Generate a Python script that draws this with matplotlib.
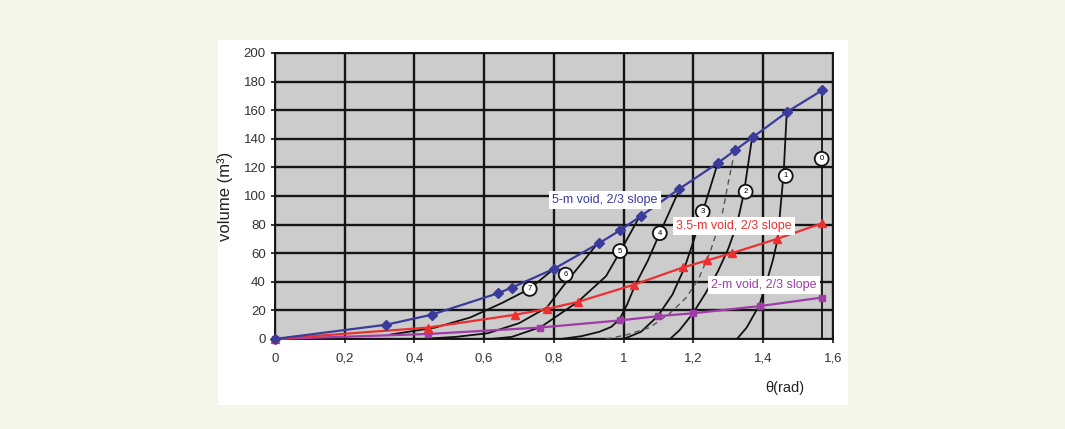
import matplotlib
matplotlib.use('Agg')
import matplotlib.pyplot as plt
from matplotlib.patches import Rectangle

plt.rcParams['font.family'] = ['Liberation Sans', 'DejaVu Sans']

# void series (theta in rad, volume in m3)
theta_5m = [0, 0.32, 0.45, 0.64, 0.68, 0.80, 0.93, 0.99, 1.05, 1.16, 1.27, 1.32, 1.37, 1.47, 1.57]
vol_5m = [0, 10, 17, 32, 36, 49, 67, 76, 86, 105, 123, 132, 141, 159, 174]

theta_35m = [0, 0.44, 0.69, 0.78, 0.87, 1.03, 1.17, 1.24, 1.31, 1.44, 1.57]
vol_35m = [0, 8, 17, 21, 26, 38, 50, 55, 60, 70, 81]

theta_2m = [0, 0.44, 0.76, 0.99, 1.10, 1.20, 1.39, 1.57]
vol_2m = [0, 3.5, 8, 13, 16, 18, 23, 29]

# numbered block curves 0..7 and the dashed one
c0_x = [1.568, 1.568]
c0_y = [0, 174]
c1_x = [1.325, 1.353, 1.39, 1.41, 1.428, 1.442, 1.45, 1.459, 1.468]
c1_y = [0, 8, 24, 40, 55, 70, 92, 116, 159]
c2_x = [1.133, 1.16, 1.199, 1.235, 1.27, 1.30, 1.325, 1.345, 1.368]
c2_y = [0, 6, 18, 32, 47, 63, 80, 102, 140]
c3_x = [1.0, 1.05, 1.098, 1.14, 1.175, 1.20, 1.227, 1.25, 1.27]
c3_y = [0, 5, 16, 31, 50, 68, 89, 107, 123]
c4_x = [0.82, 0.88, 0.93, 0.965, 0.989, 1.01, 1.032, 1.07, 1.104, 1.161]
c4_y = [0, 2, 5, 8.5, 14, 24, 37, 55, 74, 105]
c5_x = [0.62, 0.68, 0.763, 0.869, 0.95, 0.99, 1.049]
c5_y = [0, 1.5, 8.4, 26, 44, 61, 87]
c6_x = [0.42, 0.52, 0.61, 0.70, 0.78, 0.83, 0.88, 0.926]
c6_y = [0, 1.5, 4, 11, 22, 38, 53, 67]
c7_x = [0.33, 0.46, 0.56, 0.65, 0.73, 0.80]
c7_y = [3, 8, 15, 25, 35, 49]
dash_x = [0.95, 1.01, 1.075, 1.133, 1.18, 1.215, 1.247, 1.281, 1.30, 1.319]
dash_y = [0, 3, 8, 18, 29, 42, 60, 85, 109, 132]

curve_tags = ['0', '1', '2', '3', '4', '5', '6', '7']
tag_x = [1.568, 1.465, 1.35, 1.227, 1.104, 0.99, 0.834, 0.731]
tag_y = [126, 114, 103, 89, 74, 61.5, 45, 35]

xticks = [0, 0.2, 0.4, 0.6, 0.8, 1.0, 1.2, 1.4, 1.6]
xticklabels = ['0', '0,2', '0,4', '0,6', '0,8', '1', '1,2', '1,4', '1,6']
yticks = [0, 20, 40, 60, 80, 100, 120, 140, 160, 180, 200]

blue = '#3b3b9c'
red = '#ec3030'
purple = '#a03ca8'

fig = plt.figure(figsize=(10.65, 4.29), dpi=100)
fig.patch.set_facecolor('#f3f6e8')
fig.add_artist(Rectangle((0.2047, 0.056), 0.5915, 0.851, transform=fig.transFigure,
                         facecolor='white', edgecolor='none', zorder=-1))

ax = fig.add_axes([0.258, 0.2098, 0.524, 0.6667])
ax.set_facecolor('#cccccc')
ax.set_xlim(0, 1.6)
ax.set_ylim(0, 200)
ax.set_axisbelow(True)
ax.grid(True, color='#151515', lw=1.7)
for s in ax.spines.values():
    s.set_color('#151515')
    s.set_linewidth(1.4)

for cx, cy in [(c0_x, c0_y), (c1_x, c1_y), (c2_x, c2_y), (c3_x, c3_y),
               (c4_x, c4_y), (c5_x, c5_y), (c6_x, c6_y), (c7_x, c7_y)]:
    ax.plot(cx, cy, color='#111111', lw=1.3, zorder=3, solid_joinstyle='round')
ax.plot(dash_x, dash_y, color='#555555', lw=1.0, ls=(0, (4, 3)), zorder=3)

ax.plot(theta_2m, vol_2m, color=purple, lw=1.6, marker='s', ms=5, clip_on=False, zorder=4)
ax.plot(theta_35m, vol_35m, color=red, lw=1.6, marker='^', ms=6, clip_on=False, zorder=5)
ax.plot(theta_5m, vol_5m, color=blue, lw=1.6, marker='D', ms=5, clip_on=False, zorder=6)

for t, x, y in zip(curve_tags, tag_x, tag_y):
    ax.text(x, y, t, fontsize=5.5, ha='center', va='center', zorder=7,
            bbox=dict(boxstyle='circle,pad=0.45', fc='white', ec='#111111', lw=1.3))

box = dict(boxstyle='square,pad=0.25', fc='white', ec='none')
ax.text(0.946, 97, '5-m void, 2/3 slope', color=blue, fontsize=9, ha='center', va='center', bbox=box, zorder=8)
ax.text(1.316, 79, '3.5-m void, 2/3 slope', color=red, fontsize=9, ha='center', va='center', bbox=box, zorder=8)
ax.text(1.402, 38, '2-m void, 2/3 slope', color=purple, fontsize=9, ha='center', va='center', bbox=box, zorder=8)

ax.set_xticks(xticks)
ax.set_xticklabels(xticklabels)
ax.set_yticks(yticks)
ax.tick_params(direction='inout', length=6, width=1.2, colors='#151515', labelsize=9.5,
               labelcolor='#333333')
ax.tick_params(axis='x', pad=7)
ax.set_ylabel('volume (m³)', fontsize=12, color='#222222')
ax.yaxis.set_label_coords(-0.075, 0.5)
fig.text(0.737, 0.096, 'θ(rad)', fontsize=10.5, color='#222222', ha='center', va='center')

fig.savefig('out.png', dpi=100, facecolor=fig.get_facecolor())
